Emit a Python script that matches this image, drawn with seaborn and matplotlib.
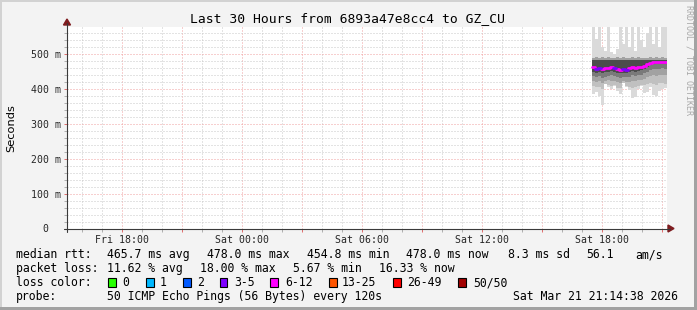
import matplotlib
matplotlib.use("Agg")
import numpy as np
import pandas as pd
import matplotlib.pyplot as plt
import matplotlib.dates as mdates
import seaborn as sns
from matplotlib.patches import Rectangle, Polygon
from matplotlib.lines import Line2D

# ---------------- data ----------------
TITLE = "Last 30 Hours from 6893a47e8cc4 to GZ_CU"
Y_LABEL = "Seconds"
WATERMARK = "RRDTOOL / TOBI OETIKER"
START_TIME = "2026-03-20 15:14:38"
END_TIME = "2026-03-21 21:14:38"
DATA_START = "2026-03-21 17:29:38"
STEP_MINUTES = 9

# median RTT per consolidated column (ms)
median_ms = [462, 458, 460, 457, 459, 461, 462, 460, 457, 455, 458, 456, 459,
             462, 461, 463, 464, 467, 471, 475, 478, 478, 478, 478, 478]
# lost pings (out of 50) per column -> loss colour
loss_pings = [7, 4, 4, 7, 8, 7, 6, 4, 8, 7, 4, 4, 7, 9, 8, 7, 8, 7, 8, 9, 8, 7, 8, 9, 8]
# smoke envelopes (ms)
max_ms = [600, 545, 600, 520, 510, 600, 505, 500, 515, 600, 530, 600, 520,
          600, 510, 600, 540, 520, 560, 600, 530, 600, 520, 600, 600]
hi_a = [490, 492, 489, 491, 490, 493, 490, 489, 491, 490, 492, 490, 489,
        491, 490, 492, 490, 489, 490, 491, 490, 492, 490, 491, 490]
hi_b = [483, 484, 483, 482, 484, 483, 484, 483, 482, 483, 484, 483, 482,
        484, 483, 484, 483, 484, 484, 484, 483, 484, 484, 483, 484]
lo_b = [450, 447, 449, 446, 448, 450, 451, 449, 446, 445, 447, 446, 448,
        451, 450, 452, 454, 458, 463, 468, 472, 471, 472, 473, 472]
lo_c = [438, 435, 437, 433, 436, 438, 439, 437, 434, 432, 436, 434, 436,
        439, 438, 440, 441, 445, 450, 455, 458, 457, 458, 459, 458]
lo_d = [424, 420, 422, 418, 423, 425, 424, 422, 419, 417, 423, 420, 421,
        424, 423, 426, 427, 430, 434, 438, 440, 438, 441, 440, 439]
lo_e = [410, 406, 405, 400, 414, 411, 409, 412, 404, 402, 416, 410, 407,
        404, 405, 410, 413, 412, 414, 418, 414, 413, 417, 416, 415]
min_ms = [385, 392, 380, 355, 415, 405, 400, 410, 395, 385, 420, 405, 398,
          375, 378, 400, 410, 388, 392, 405, 382, 380, 395, 400, 402]

LOSS_BINS = ["0", "1", "2", "3-5", "6-12", "13-25", "26-49", "50/50"]
LOSS_COLORS = ["#26ff00", "#00b8ff", "#0059ff", "#7e00ff", "#ff00ff",
               "#ff5500", "#ff0000", "#a10000"]

Y_TICKS = [0, 100, 200, 300, 400, 500]
Y_TICK_LABELS = ["0  ", "100 m", "200 m", "300 m", "400 m", "500 m"]
Y_MAX = 578
X_MAJOR_TIMES = ["2026-03-20 18:00", "2026-03-20 21:00", "2026-03-21 00:00",
                 "2026-03-21 03:00", "2026-03-21 06:00", "2026-03-21 09:00",
                 "2026-03-21 12:00", "2026-03-21 15:00", "2026-03-21 18:00",
                 "2026-03-21 21:00"]
X_TICK_LABELS = ["Fri 18:00", "", "Sat 00:00", "", "Sat 06:00", "",
                 "Sat 12:00", "", "Sat 18:00", ""]

LEGEND_ROWS = [
    [("median rtt:", 16), ("465.7 ms avg", 107), ("478.0 ms max", 207),
     ("454.8 ms min", 307), ("478.0 ms now", 406), ("8.3 ms sd", 508),
     ("56.1", 586), ("am/s", 635)],
    [("packet loss:", 16), ("11.62 % avg", 107), ("18.00 % max", 200),
     ("5.67 % min", 293), ("16.33 % now", 379)],
    [("loss color:", 16)],
    [("probe:", 16), ("50 ICMP Echo Pings (56 Bytes) every 120s", 107),
     ("Sat Mar 21 21:14:38 2026", 513)],
]
SWATCH_X = [108, 146, 183, 220, 270, 329, 393, 458]
SWATCH_LABEL_X = [122.5, 160, 197, 234, 285, 342, 407.5, 473]

# ---------------- figure ----------------
W, H = 697, 310
sns.set_theme(style="white")
plt.rcParams["font.family"] = ["DejaVu Sans Mono", "DejaVu Sans"]
MONO = "DejaVu Sans Mono"

fig = plt.figure(figsize=(W / 100, H / 100), dpi=100)
fig.patch.set_facecolor("#f3f3f3")

def fx(x):
    return x / W

def fy(y):
    return 1 - y / H

PL, PR, PT, PB = 67, 667, 27, 228.5
ax = fig.add_axes([fx(PL), fy(PB), (PR - PL) / W, (PB - PT) / H])
ax.set_facecolor("white")
for s in ax.spines.values():
    s.set_visible(False)

t_start = pd.Timestamp(START_TIME)
t_end = pd.Timestamp(END_TIME)
edges = pd.date_range(DATA_START, periods=len(median_ms) + 1,
                      freq=f"{STEP_MINUTES}min")

def ext(a):
    return list(a) + [a[-1]]

layers = [
    (min_ms, max_ms, "#dadada"),
    (lo_e, hi_a, "#c0c0c0"),
    (lo_d, hi_a, "#a2a2a2"),
    (lo_c, hi_b, "#7a7a7a"),
    (lo_b, hi_b, "#4c4c4c"),
]
for lo, hi, c in layers:
    ax.fill_between(edges, ext(lo), ext(hi), step="post", color=c,
                    linewidth=0, zorder=2)

# median line coloured by loss
def loss_bin(n):
    if n == 0:
        return "0"
    if n == 1:
        return "1"
    if n == 2:
        return "2"
    if n <= 5:
        return "3-5"
    if n <= 12:
        return "6-12"
    if n <= 25:
        return "13-25"
    if n < 50:
        return "26-49"
    return "50/50"

rows = []
run = 0
prev = None
for i, (m, lp) in enumerate(zip(median_ms, loss_pings)):
    b = loss_bin(lp)
    if prev is not None and b != prev:
        run += 1
    prev = b
    rows.append({"t": edges[i], "ms": m, "loss": b, "run": run})
    rows.append({"t": edges[i + 1], "ms": m, "loss": b, "run": run})
df = pd.DataFrame(rows)
pal = dict(zip(LOSS_BINS, LOSS_COLORS))
sns.lineplot(data=df, x="t", y="ms", hue="loss", units="run", estimator=None,
             sort=False, palette=pal, linewidth=2.0, legend=False, ax=ax,
             zorder=5)

ax.set_xlim(t_start, t_end)
ax.set_ylim(0, Y_MAX)

# grid
ax.set_yticks(Y_TICKS)
ax.set_yticklabels(Y_TICK_LABELS)
ax.yaxis.set_minor_locator(matplotlib.ticker.MultipleLocator(20))
ax.set_xticks(pd.to_datetime(X_MAJOR_TIMES))
ax.set_xticklabels(X_TICK_LABELS)
ax.xaxis.set_minor_locator(mdates.HourLocator())
ax.grid(which="minor", color="#c8c8c8", linestyle=(0, (1, 2)), linewidth=0.72, zorder=1)
ax.grid(which="major", color="#f0a0a0", linestyle=(0, (1, 2)), linewidth=0.72, zorder=1)
ax.set_axisbelow(True)
ax.tick_params(which="major", length=2, width=0.72, color="#e07070",
               direction="out", labelsize=7.1, pad=2.5, left=True, bottom=True)
ax.tick_params(which="minor", length=2, width=0.72, color="#b0b0b0",
               direction="out", left=True, bottom=True)
for lab in ax.get_xticklabels() + ax.get_yticklabels():
    lab.set_family(MONO)
ax.set_xlabel("")
ax.set_ylabel("")

# axes lines and arrows
axis_c = "#3a3a3a"
arrow_c = "#7f1c1f"
fig.add_artist(Line2D([fx(PL), fx(PL)], [fy(PB + 3), fy(23)], color=axis_c,
                      linewidth=0.8, transform=fig.transFigure))
fig.add_artist(Line2D([fx(PL - 3), fx(670)], [fy(PB), fy(PB)], color=axis_c,
                      linewidth=0.8, transform=fig.transFigure))
fig.add_artist(Polygon([[fx(PL - 3.5), fy(25)], [fx(PL + 3.5), fy(25)],
                        [fx(PL), fy(19)]], closed=True, color=arrow_c,
                       transform=fig.transFigure))
fig.add_artist(Polygon([[fx(668), fy(PB - 3.5)], [fx(668), fy(PB + 3.5)],
                        [fx(674), fy(PB)]], closed=True, color=arrow_c,
                       transform=fig.transFigure))

# texts
fig.text(fx(348), fy(19), TITLE, ha="center", va="center", fontsize=9.4,
         family=MONO, color="black")
fig.text(fx(11), fy((PT + PB) / 2), Y_LABEL, rotation=90, ha="center",
         va="center", fontsize=8.2, family="DejaVu Sans", color="black")
fig.text(fx(689), fy(5), WATERMARK, rotation=270, ha="center", va="top",
         fontsize=6, family=MONO, color="#a8a8a8")

row_y = [254.5, 268.5, 282.5, 296.5]
for ry, items in zip(row_y, LEGEND_ROWS):
    for txt, x in items:
        fig.text(fx(x), fy(ry), txt, ha="left", va="center", fontsize=8.3,
                 family=MONO, color="black")
for sx, lx, lab, c in zip(SWATCH_X, SWATCH_LABEL_X, LOSS_BINS, LOSS_COLORS):
    fig.add_artist(Rectangle((fx(sx), fy(row_y[2] + 4.5)), 7.5 / W, 9.5 / H,
                             facecolor=c, edgecolor="black", linewidth=0.8,
                             transform=fig.transFigure))
    fig.text(fx(lx), fy(row_y[2]), lab, ha="left", va="center", fontsize=8.3,
             family=MONO, color="black")

# frame
fig.add_artist(Rectangle((0, fy(2)), 1, 2 / H, facecolor="#d2d2d2",
                         edgecolor="none", transform=fig.transFigure))
fig.add_artist(Rectangle((0, 0), 2 / W, 1, facecolor="#d2d2d2",
                         edgecolor="none", transform=fig.transFigure))
fig.add_artist(Rectangle((0, 0), 1, 3 / H, facecolor="#a2a2a2",
                         edgecolor="none", transform=fig.transFigure))
fig.add_artist(Rectangle((1 - 3 / W, 0), 3 / W, 1, facecolor="#a2a2a2",
                         edgecolor="none", transform=fig.transFigure))

fig.savefig("out.png", dpi=100, facecolor=fig.get_facecolor())
